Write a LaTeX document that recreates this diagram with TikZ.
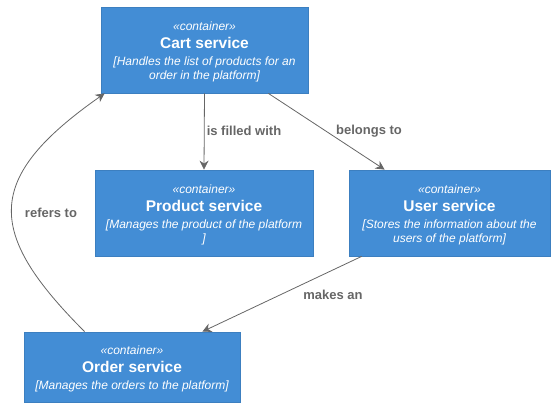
\documentclass[tikz,border=0pt]{standalone}
\usepackage{fontspec}
\setmainfont{Liberation Sans}
\usetikzlibrary{arrows.meta}
\definecolor{boxfill}{HTML}{438DD5}
\definecolor{boxline}{HTML}{3C7FC0}
\definecolor{relgray}{HTML}{666666}
\tikzset{
  container/.style={draw=boxline, fill=boxfill, line width=0.8pt, text=white,
    inner sep=0pt, align=center, font=\fontsize{12}{14}\selectfont},
  rel/.style={draw=relgray, line width=0.8pt, -{Stealth[length=9pt,width=9pt,inset=3pt]}},
  rellabel/.style={text=relgray, font=\bfseries\fontsize{13}{15}\selectfont, inner sep=0pt}
}
\newcommand{\stereo}{\rule{0pt}{13pt}{\itshape «container»}}
\newcommand{\ctitle}[1]{{\bfseries\fontsize{15.5}{18}\selectfont #1}}
\begin{document}
\begin{tikzpicture}[x=1pt,y=-1pt]
\useasboundingbox (0,0) rectangle (560,413);
\node[container, minimum width=207pt, minimum height=86pt] (cart) at (204.5,50)
  {\stereo\\[4pt]\ctitle{Cart service}\\[3pt]
   {\itshape [Handles the list of products for an}\\{\itshape order in the platform]}};
\node[container, minimum width=218pt, minimum height=86pt] (product) at (204,213)
  {\stereo\\[4pt]\ctitle{Product service}\\[3pt]
   {\itshape [Manages the product of the platform}\\{\itshape ]}};
\node[container, minimum width=201pt, minimum height=86pt] (user) at (449.5,213)
  {\stereo\\[4pt]\ctitle{User service}\\[3pt]
   {\itshape [Stores the information about the}\\{\itshape users of the platform]}};
\node[container, minimum width=216pt, minimum height=70pt] (order) at (132,367)
  {\stereo\\[4pt]\ctitle{Order service}\\[3pt]
   {\itshape [Manages the orders to the platform]}};

\draw[rel] (cart.south) -- (product.north);
\draw[rel] ([xshift=-40pt]cart.south east) -- ([xshift=36pt]user.north west);
\draw[rel] ([xshift=13pt]user.south west) -- ([xshift=-38pt]order.north east);
\draw[rel] ([xshift=61pt]order.north west) .. controls (-15,232) and (-16,178) .. ([xshift=4pt]cart.south west);

\node[rellabel] (l1) at (244,131) {is filled with};
\node[rellabel] (l2) at (369,131) {belongs to};
\node[rellabel] (l3) at (333,295) {makes an};
\node[rellabel] (l4) at (51,213) {refers to};
\end{tikzpicture}
\end{document}
